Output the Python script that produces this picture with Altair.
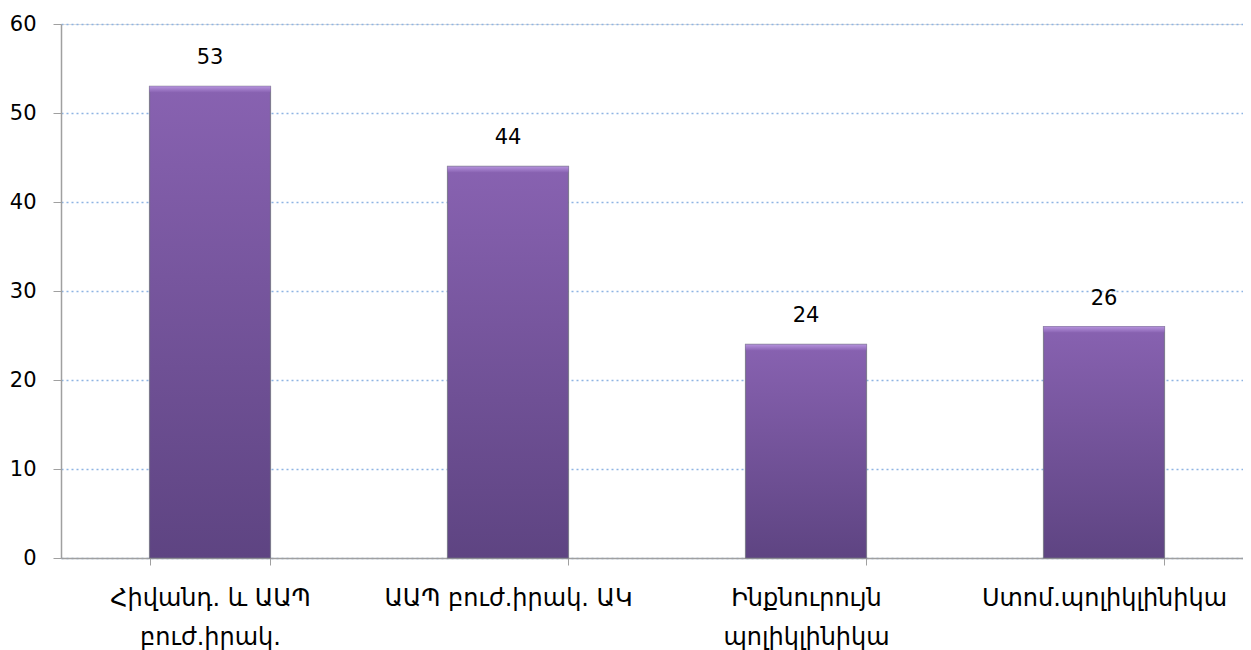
import altair as alt
import pandas as pd

categories = ["Հիվանդ. և ԱԱՊ\nբուժ.իրակ.", "ԱԱՊ բուժ.իրակ. ԱԿ", "Ինքնուրույն\nպոլիկլինիկա", "Ստոմ.պոլիկլինիկա"]
values = [53, 44, 24, 26]
y_ticks = [0, 10, 20, 30, 40, 50, 60]

df = pd.DataFrame({"cat": categories, "val": values})

FONT = "DejaVu Sans, sans-serif"

x_enc = alt.X("cat:N", sort=categories, title=None,
              scale=alt.Scale(paddingInner=0.594, paddingOuter=0.297, range=[0, 1192]),
              axis=alt.Axis(labelAngle=0, labelFontSize=24, labelFont=FONT, labelColor="#000000",
                            labelExpr="split(datum.label, '\\n')", labelLineHeight=39,
                            labelPadding=21, tickBand="extent", tickSize=7, tickColor="#A0A0A0",
                            domainColor="#A0A0A0", domainWidth=1.5, grid=False, labelLimit=400))
y_enc = alt.Y("val:Q", title=None,
              scale=alt.Scale(domain=[0, 60], nice=False),
              axis=alt.Axis(values=y_ticks, labelFontSize=21, labelFont=FONT, labelColor="#000000",
                            labelPadding=17, tickSize=8, tickColor="#A0A0A0", domainColor="#A0A0A0",
                            domainWidth=1.5, grid=True, gridColor="#8EB4E3", gridDash=[2, 3],
                            gridWidth=1.5))

bars = alt.Chart(df).mark_bar(
    fill=alt.Gradient(gradient="linear", x1=0, y1=0, x2=0, y2=1,
                      stops=[alt.GradientStop(color="#8862B1", offset=0),
                             alt.GradientStop(color="#5E4482", offset=1)]),
    stroke="#6f6f7f", strokeWidth=1.2, strokeOpacity=0.8
).encode(x=x_enc, y=y_enc)

top_strip = alt.Chart(df).mark_bar(
    fill=alt.Gradient(gradient="linear", x1=0, y1=0, x2=0, y2=1,
                      stops=[alt.GradientStop(color="#B592DD", offset=0),
                             alt.GradientStop(color="#8A64B3", offset=1)]),
    y2Offset=6
).encode(x=alt.X("cat:N", sort=categories), y=alt.Y("val:Q"), y2=alt.Y2("val:Q"))

labels = alt.Chart(df).mark_text(dy=-28, fontSize=21, font=FONT, color="#000000").encode(
    x=alt.X("cat:N", sort=categories), y=alt.Y("val:Q"), text=alt.Text("val:Q"))

chart = alt.layer(bars, top_strip, labels).properties(
    width=1182, height=534,
    autosize=alt.AutoSizeParams(type="none"),
    padding={"left": 53, "top": 16, "right": 0, "bottom": 100},
).configure_view(stroke=None).configure(background="white")

chart.save("out.html", embed_options={"renderer": "svg", "actions": False})
